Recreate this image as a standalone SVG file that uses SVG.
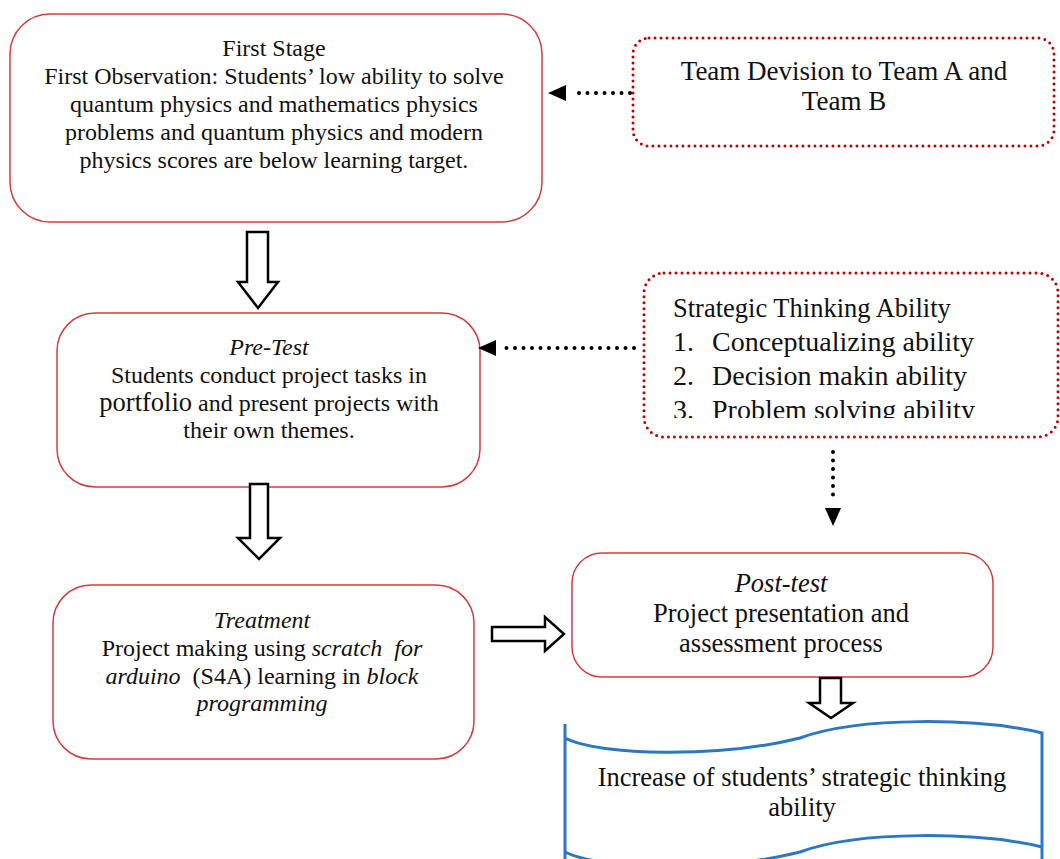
<svg xmlns="http://www.w3.org/2000/svg" width="1060" height="859" viewBox="0 0 1060 859">
<style>
text{font-family:"Liberation Serif","Times New Roman",serif;fill:#111;white-space:pre}
.t{font-size:24px;text-anchor:middle}
.b{font-size:26.5px;text-anchor:middle}
.i{font-style:italic}
.box{fill:#fff;stroke:#d43d3f;stroke-width:1.5}
.dbox{fill:#fff;stroke:#c00000;stroke-width:3;stroke-dasharray:0 6;stroke-linecap:round}
.dot{fill:none;stroke:#000;stroke-width:4;stroke-dasharray:0 8.5;stroke-linecap:round}
.blk{fill:#fff;stroke:#000;stroke-width:2.5;stroke-linejoin:miter}
.doc{fill:#fff;stroke:#2a78c4;stroke-width:3}
</style>
<defs>
<clipPath id="clip6"><rect x="640" y="270" width="420" height="148"/></clipPath>
</defs>
<rect width="1060" height="859" fill="#fff"/>

<g id="first-stage">
<rect class="box" x="10" y="14" width="532" height="208" rx="40"/>
<text class="t" x="274" y="56">First Stage</text>
<text class="t" x="274" y="84">First Observation: Students’ low ability to solve</text>
<text class="t" x="274" y="112">quantum physics and mathematics physics</text>
<text class="t" x="274" y="140">problems and quantum physics and modern</text>
<text class="t" x="274" y="168">physics scores are below learning target.</text>
</g>

<g id="team-division">
<rect class="dbox" x="633" y="38" width="421" height="108" rx="16"/>
<text class="t" x="844" y="80" style="font-size:27px">Team Devision to Team A and</text>
<text class="t" x="844" y="110" style="font-size:27px">Team B</text>
</g>

<g id="pre-test">
<rect class="box" x="57" y="313" width="423" height="174" rx="38"/>
<text class="t i" x="269" y="355">Pre-Test</text>
<text class="t" x="269" y="383">Students conduct project tasks in</text>
<text class="t" x="269" y="411"><tspan style="font-size:26.5px">portfolio</tspan> and present projects with</text>
<text class="t" x="269" y="438">their own themes.</text>
</g>

<g id="strategic-thinking">
<rect class="dbox" x="644" y="273" width="414" height="164" rx="20"/>
<g clip-path="url(#clip6)">
<text x="673" y="317" style="font-size:26.5px">Strategic Thinking Ability</text>
<text x="673" y="351" style="font-size:28px">1.</text><text x="712" y="351" style="font-size:28px">Conceptualizing ability</text>
<text x="673" y="385" style="font-size:28px">2.</text><text x="712" y="385" style="font-size:28px">Decision makin ability</text>
<text x="673" y="419" style="font-size:28px">3.</text><text x="712" y="419" style="font-size:28px">Problem solving ability</text>
</g>
</g>

<g id="treatment">
<rect class="box" x="53" y="585" width="421" height="174" rx="38"/>
<text class="t i" x="262" y="628">Treatment</text>
<text class="t" x="262" y="656">Project making using <tspan class="i">scratch  for</tspan></text>
<text class="t" x="262" y="684"><tspan class="i">arduino</tspan>  (S4A) learning in <tspan class="i">block</tspan></text>
<text class="t i" x="262" y="711">programming</text>
</g>

<g id="post-test">
<rect class="box" x="572" y="553" width="421" height="124" rx="30"/>
<text class="b i" x="781" y="592">Post-test</text>
<text class="b" x="781" y="622">Project presentation and</text>
<text class="b" x="781" y="652">assessment process</text>
</g>

<g id="result">
<path class="doc" d="M565,724 L565,738 C600,756 720,758 800,738 C860,716 980,718 1042,733 L1042,859 M565,738 L565,859"/>
<path class="doc" style="fill:none" d="M565,852 C600,870 720,872 800,852 C860,830 980,832 1042,847"/>
<text class="b" x="802" y="786">Increase of students’ strategic thinking</text>
<text class="b" x="802" y="816">ability</text>
</g>

<g id="connectors">
<line class="dot" x1="630" y1="93" x2="572" y2="93"/>
<polygon points="548,93 566,85 566,101" fill="#000"/>
<line class="dot" x1="634" y1="348" x2="502" y2="348"/>
<polygon points="478,348 496,340 496,356" fill="#000"/>
<line class="dot" x1="833" y1="452" x2="833" y2="502"/>
<polygon points="833,526 825,508 841,508" fill="#000"/>
<polygon class="blk" points="247,232 268,232 268,282 278,282 258,308 238,282 247,282"/>
<polygon class="blk" points="250,484 268,484 268,538 280,538 259,559 238,538 250,538"/>
<polygon class="blk" points="492,627 545,627 545,617 564,634 545,651 545,641 492,641"/>
<polygon class="blk" points="820,678 841,678 841,703 853,703 831,718 809,703 820,703"/>
</g>
</svg>
